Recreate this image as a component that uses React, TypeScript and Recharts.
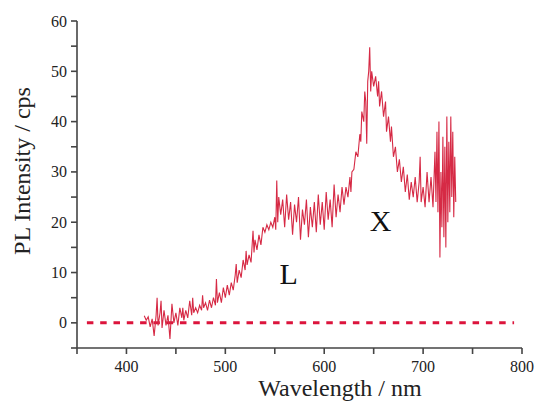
import React from "react";
import {
  Label,
  Line,
  LineChart,
  ReferenceDot,
  ReferenceLine,
  XAxis,
  YAxis,
} from "recharts";

// PL spectrum (nm, cps)
const wavelengths = [
  418, 420, 422, 424, 426, 428, 430, 431, 432, 434, 435, 436, 438, 440, 442, 444, 446, 448, 450, 452,
  454, 456, 457, 458, 460, 462, 464, 466, 467, 468, 470, 472, 474, 476, 477, 478, 480, 482, 484, 486,
  488, 490, 491, 492, 494, 496, 498, 500, 502, 504, 506, 508, 510, 511, 512, 514, 516, 518, 520, 521,
  522, 524, 526, 528, 529, 530, 532, 534, 536, 538, 540, 542, 544, 546, 548, 550, 551, 552, 553, 554,
  556, 558, 560, 562, 564, 566, 568, 570, 572, 574, 576, 578, 580, 582, 584, 586, 588, 590, 592, 594,
  596, 598, 600, 602, 604, 606, 608, 610, 612, 614, 616, 618, 620, 622, 624, 626, 627, 628, 630, 632,
  634, 636, 637, 638, 640, 641, 642, 643, 644, 645, 646, 647, 648, 650, 652, 654, 655, 656, 658, 660,
  662, 663, 665, 667, 668, 670, 672, 674, 676, 678, 680, 682, 684, 686, 688, 690, 692, 694, 696, 697,
  698, 700, 702, 704, 706, 708, 710, 712, 713, 714, 715, 716, 717, 718, 719, 720, 721, 722, 723, 724,
  725, 726, 727, 728, 729, 730, 731, 732, 733,
];

const intensities = [
  1.4, 0.5, 1.2, -0.8, 0.8, -2.6, 1.5, 5.0, -0.5, 2.0, 4.4, -1.0, 2.5, -0.5, 1.5, -3.2, 3.8, 0.0, 2.0, -0.5,
  3.0, 1.0, 3.0, 0.5, 2.5, 1.0, 4.4, 1.5, 5.0, 2.0, 3.0, 2.0, 3.5, 2.5, 5.5, 3.0, 4.0, 2.5, 4.5, 3.0,
  5.0, 3.5, 8.7, 4.0, 6.0, 4.0, 7.0, 5.0, 7.5, 5.5, 8.0, 6.5, 9.5, 11.7, 8.0, 10.5, 9.0, 12.5, 10.5, 14.3,
  11.5, 13.5, 12.0, 18.3, 14.0, 16.5, 14.5, 17.5, 15.5, 19.0, 18.0, 19.5, 18.5, 20.0, 19.0, 21.0, 18.5, 28.3, 20.0, 25.0,
  21.5, 24.5, 19.0, 25.5, 20.5, 24.0, 17.5, 23.5, 20.0, 25.0, 16.5, 22.5, 19.5, 24.5, 17.0, 23.0, 19.0, 24.0, 18.0, 25.5,
  19.5, 24.0, 18.5, 26.0, 20.5, 24.5, 19.0, 27.5, 21.0, 25.5, 22.0, 27.0, 23.5, 27.0, 25.0, 29.0, 26.0, 30.0, 30.5, 34.0,
  33.0, 37.5, 36.0, 42.0, 40.0, 46.0, 44.0, 35.6, 48.0, 50.0, 54.8, 46.0, 50.0, 47.0, 49.0, 45.0, 48.0, 43.0, 46.0, 41.0,
  44.0, 38.0, 41.0, 36.0, 39.0, 33.0, 35.0, 30.0, 32.5, 28.0, 31.0, 26.0, 29.5, 24.5, 28.0, 25.0, 29.0, 24.0, 28.0, 33.0,
  24.0, 27.0, 23.0, 30.0, 24.0, 29.0, 23.0, 34.0, 24.0, 38.0, 22.0, 40.0, 13.0, 30.0, 19.0, 37.0, 17.0, 35.0, 15.0, 41.0,
  20.0, 36.0, 22.0, 41.0, 25.0, 38.0, 21.0, 33.0, 24.0,
];

const xTicks = [350, 400, 450, 500, 550, 600, 650, 700, 750, 800];
const yTicks = [-5, 0, 5, 10, 15, 20, 25, 30, 35, 40, 45, 50, 55, 60];

const data = wavelengths.map((wl, i) => ({ wl, pl: intensities[i] }));

const FONT = "'Liberation Serif', 'Times New Roman', serif";
const AXIS = "#444";
const RED = "#d62a45";

// custom tick text so the serif font actually sticks
const XTick = (props: any) => {
  const { x, y, payload } = props;
  if (payload.value % 100 !== 0) return null;
  return (
    <text x={x} y={y + 14} textAnchor="middle" fontSize={16} fill="#222" fontFamily={FONT}>
      {payload.value}
    </text>
  );
};

const YTick = (props: any) => {
  const { x, y, payload } = props;
  if (payload.value % 10 !== 0) return null;
  return (
    <text x={x} y={y + 5.5} textAnchor="end" fontSize={16} fill="#222" fontFamily={FONT}>
      {payload.value}
    </text>
  );
};

export default function App() {
  return (
    <div style={{ position: "absolute", left: 0, top: 0, width: 536, height: 402 }}>
      <LineChart
        width={536}
        height={402}
        data={data}
        margin={{ top: 21, right: 14, left: 0, bottom: 0 }}
      >
        <XAxis
          dataKey="wl"
          type="number"
          domain={[350, 800]}
          ticks={xTicks}
          height={54}
          tickSize={6}
          tickMargin={4}
          stroke={AXIS}
          strokeWidth={1.6}
          tick={XTick}
          allowDataOverflow
        >
          <Label
            content={() => (
              <text
                x={340}
                y={396}
                textAnchor="middle"
                fontSize={24}
                fill="#222"
                fontFamily={FONT}
              >
                Wavelength / nm
              </text>
            )}
          />
        </XAxis>
        <YAxis
          type="number"
          domain={[-5, 60]}
          ticks={yTicks}
          width={77}
          tickSize={6}
          tickMargin={4}
          stroke={AXIS}
          strokeWidth={1.6}
          tick={YTick}
          allowDataOverflow
        >
          <Label
            content={() => (
              <text
                x={30}
                y={171}
                transform="rotate(-90 30 171)"
                textAnchor="middle"
                fontSize={24}
                fill="#222"
                fontFamily={FONT}
              >
                PL Intensity / cps
              </text>
            )}
          />
        </YAxis>
        <ReferenceLine
          segment={[
            { x: 360, y: 0 },
            { x: 792, y: 0 },
          ]}
          stroke="#dc143c"
          strokeWidth={3}
          strokeDasharray="6.5 6.8"
        />
        <Line
          type="linear"
          dataKey="pl"
          stroke={RED}
          strokeWidth={1.1}
          dot={false}
          isAnimationActive={false}
        />
        <ReferenceDot
          x={564}
          y={9.8}
          r={0}
          fill="none"
          stroke="none"
          label={(p: any) => (
            <text
              x={p.viewBox.x + (p.viewBox.width || 0) / 2}
              y={p.viewBox.y + (p.viewBox.height || 0) / 2 + 10.5}
              textAnchor="middle"
              fontSize={30}
              fill="#111"
              fontFamily={FONT}
            >
              L
            </text>
          )}
        />
        <ReferenceDot
          x={657}
          y={20.4}
          r={0}
          fill="none"
          stroke="none"
          label={(p: any) => (
            <text
              x={p.viewBox.x + (p.viewBox.width || 0) / 2}
              y={p.viewBox.y + (p.viewBox.height || 0) / 2 + 10.5}
              textAnchor="middle"
              fontSize={30}
              fill="#111"
              fontFamily={FONT}
            >
              X
            </text>
          )}
        />
      </LineChart>
    </div>
  );
}
